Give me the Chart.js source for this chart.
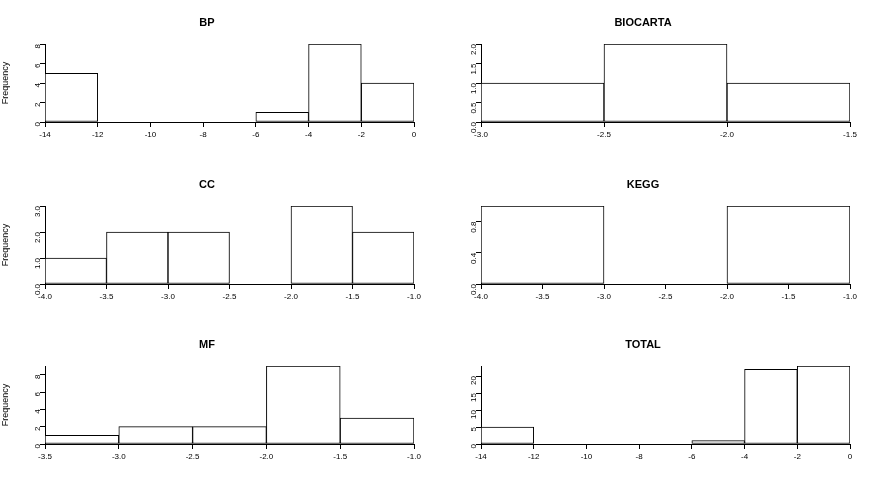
<!DOCTYPE html>
<html>
<head>
<meta charset="utf-8">
<script src="https://cdn.jsdelivr.net/npm/chart.js@4"></script>
<style>
  body { margin: 0; background: #fff; }
  .panel { position: absolute; width: 435px; height: 160px; }
</style>
</head>
<body>
<div class="panel" style="left:0;top:0"><canvas id="bp"></canvas></div>
<div class="panel" style="left:436px;top:0"><canvas id="biocarta"></canvas></div>
<div class="panel" style="left:0;top:162px"><canvas id="cc"></canvas></div>
<div class="panel" style="left:436px;top:162px"><canvas id="kegg"></canvas></div>
<div class="panel" style="left:0;top:322px"><canvas id="mf"></canvas></div>
<div class="panel" style="left:436px;top:322px"><canvas id="total"></canvas></div>
<script>
// histogram counts per bin
const bpCounts = [5, 0, 0, 0, 1, 8, 4];          // bins -14..0 step 2
const biocartaCounts = [1, 2, 1];                // bins -3..-1.5 step 0.5
const ccCounts = [1, 2, 2, 0, 3, 2];             // bins -4..-1 step 0.5
const keggCounts = [1, 0, 1];                    // bins -4..-1 step 1
const mfCounts = [1, 2, 2, 9, 3];                // bins -3.5..-1 step 0.5
const totalCounts = [5, 0, 0, 0, 1, 22, 23];     // bins -14..0 step 2

Chart.defaults.font.family = 'Liberation Sans, Arial, sans-serif';
Chart.defaults.font.size = 8;
Chart.defaults.color = '#000';

const PLOT_W = 369; // chart area width in px (435 - 45 axis - 21 padding)

function hist(id, title, start, width, counts, xStep, xDec, yMax, yStep, yDec, ylab) {
    const pts = counts.map((c, i) => ({ x: start + width * (i + 0.5), y: c }));
    const end = start + width * counts.length;
    new Chart(document.getElementById(id), {
        type: 'bar',
        data: {
            datasets: [{
                data: pts,
                backgroundColor: '#fff',
                borderColor: '#000',
                borderWidth: 1,
                borderSkipped: false,
                barThickness: PLOT_W * width / (end - start)
            }]
        },
        options: {
            responsive: true,
            maintainAspectRatio: false,
            animation: false,
            layout: { padding: { top: 16, right: 21, bottom: 0, left: 0 } },
            plugins: {
                legend: { display: false },
                tooltip: { enabled: false },
                title: {
                    display: true, text: title,
                    font: { size: 11, weight: 'bold' }, color: '#000',
                    padding: { top: 0, bottom: 14.8 }
                }
            },
            scales: {
                x: {
                    type: 'linear', min: start, max: end, offset: false,
                    grid: { drawOnChartArea: false, tickLength: 5, color: '#000', offset: false },
                    border: { color: '#000' },
                    ticks: { stepSize: xStep, callback: v => v.toFixed(xDec), maxRotation: 0, autoSkip: false },
                    afterFit: s => { s.height = 38; }
                },
                y: {
                    min: 0, max: yMax,
                    grid: { drawOnChartArea: false, tickLength: 5, color: '#000' },
                    border: { color: '#000' },
                    ticks: { callback: v => v.toFixed(yDec), minRotation: 90, maxRotation: 90, padding: 2 },
                    afterBuildTicks: s => {
                        const t = [];
                        for (let v = 0; v <= yMax + 1e-9; v += yStep) t.push({ value: +v.toFixed(4) });
                        s.ticks = t;
                    },
                    title: { display: ylab, text: 'Frequency', font: { size: 9 }, padding: 0 },
                    afterFit: s => { s.width = 45; }
                }
            }
        }
    });
}

hist('bp', 'BP', -14, 2, bpCounts, 2, 0, 8, 2, 0, true);
hist('biocarta', 'BIOCARTA', -3, 0.5, biocartaCounts, 0.5, 1, 2, 0.5, 1, false);
hist('cc', 'CC', -4, 0.5, ccCounts, 0.5, 1, 3, 1, 1, true);
hist('kegg', 'KEGG', -4, 1, keggCounts, 0.5, 1, 1, 0.4, 1, false);
hist('mf', 'MF', -3.5, 0.5, mfCounts, 0.5, 1, 9, 2, 0, true);
hist('total', 'TOTAL', -14, 2, totalCounts, 2, 0, 23, 5, 0, false);
</script>
</body>
</html>
